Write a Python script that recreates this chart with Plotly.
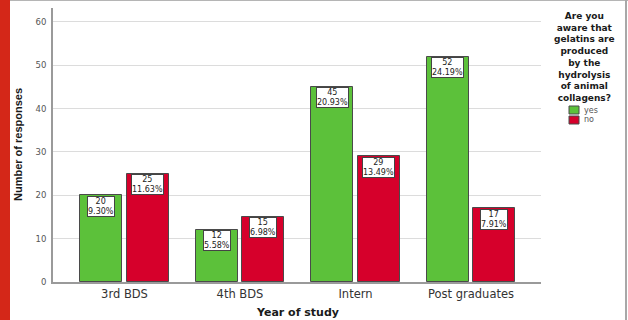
import plotly.graph_objects as go

# Survey responses by year of study
years = ["3rd BDS", "4th BDS", "Intern", "Post graduates"]
yes_counts = [20, 12, 45, 52]
no_counts = [25, 15, 29, 17]
yes_pct = ["9.30%", "5.58%", "20.93%", "24.19%"]
no_pct = ["11.63%", "6.98%", "13.49%", "7.91%"]
y_ticks = [0, 10, 20, 30, 40, 50, 60]
legend_title_lines = ["Are you", "aware that", "gelatins are", "produced",
                      "by the", "hydrolysis", "of animal", "collagens?"]
series_names = ["yes", "no"]

GREEN = "#5cc13a"
RED = "#d6002b"
FONT = "DejaVu Sans"

W, H = 628, 320
L, R, T, B = 53, 541, 8, 282  # plot area in pixels


def px_x(px):
    return (px - L) / (R - L)


def px_y(py):
    return (B - py) / (B - T)


idx = list(range(len(years)))
off = 0.203
bw = 0.364

fig = go.Figure()
for counts, color, name, shift in [(yes_counts, GREEN, series_names[0], -off),
                                   (no_counts, RED, series_names[1], off)]:
    fig.add_trace(go.Bar(
        x=[i + shift for i in idx], y=counts, width=bw, name=name,
        marker=dict(color=color, line=dict(color="#4a4a4a", width=1)),
        showlegend=False,
    ))

annotations = []
# value boxes at the top of each bar
for counts, pcts, shift in [(yes_counts, yes_pct, -off), (no_counts, no_pct, off)]:
    for i, c, p in zip(idx, counts, pcts):
        annotations.append(dict(
            x=i + shift, y=c, xref="x", yref="y", yanchor="top", yshift=-0.5,
            text=f"{c}<br>{p}", showarrow=False,
            font=dict(family=FONT, size=8, color="#222"),
            bgcolor="white", bordercolor="#444", borderwidth=1, borderpad=0,
        ))

# legend title
annotations.append(dict(
    x=px_x(584), y=px_y(9), xref="paper", yref="paper",
    xanchor="center", yanchor="top", align="center",
    text="<b>" + "<br>".join(legend_title_lines) + "</b>", showarrow=False,
    font=dict(family=FONT, size=9, color="#1a1a1a"),
))

shapes = []
# legend entries
for name, color, top in [(series_names[0], GREEN, 106), (series_names[1], RED, 116)]:
    shapes.append(dict(type="rect", xref="paper", yref="paper",
                       x0=px_x(569), x1=px_x(579), y0=px_y(top + 8), y1=px_y(top),
                       fillcolor=color, line=dict(color="#4a4a4a", width=1)))
    annotations.append(dict(
        x=px_x(582), y=px_y(top + 4), xref="paper", yref="paper",
        xanchor="left", yanchor="middle", text=name, showarrow=False,
        font=dict(family=FONT, size=8, color="#555"),
    ))

# axis titles
annotations.append(dict(
    x=px_x(297), y=px_y(312), xref="paper", yref="paper", xanchor="center",
    yanchor="middle", text="<b>Year of study</b>", showarrow=False,
    font=dict(family=FONT, size=11, color="#1a1a1a"),
))
annotations.append(dict(
    x=px_x(18), y=px_y(145), xref="paper", yref="paper", xanchor="center",
    yanchor="middle", text="<b>Number of responses</b>", showarrow=False,
    textangle=-90, font=dict(family="Liberation Sans", size=11, color="#1a1a1a"),
))

# page frame: red side band, thin grey borders
shapes.append(dict(type="rect", xref="paper", yref="paper",
                   x0=px_x(0), x1=px_x(10), y0=px_y(W), y1=px_y(0),
                   fillcolor="#d42718", line=dict(width=0), layer="above"))
shapes.append(dict(type="line", xref="paper", yref="paper",
                   x0=px_x(10), x1=px_x(628), y0=px_y(0.5), y1=px_y(0.5),
                   line=dict(color="#b5b5b5", width=1)))
shapes.append(dict(type="line", xref="paper", yref="paper",
                   x0=px_x(626), x1=px_x(626), y0=px_y(0), y1=px_y(320),
                   line=dict(color="#a8a8a8", width=2)))

fig.update_layout(
    width=W, height=H,
    margin=dict(l=L, r=W - R, t=T, b=H - B, pad=0),
    paper_bgcolor="white", plot_bgcolor="white",
    font=dict(family=FONT),
    annotations=annotations, shapes=shapes,
    bargap=0,
)
fig.update_xaxes(
    range=[-0.619, 3.606], tickvals=idx, ticktext=years, ticks="",
    tickfont=dict(family=FONT, size=11.5, color="#333"),
    showgrid=False, zeroline=False, showline=True, linecolor="#9a9a9a", linewidth=1.5,
)
fig.update_yaxes(
    range=[0, 63.2], tickvals=y_ticks, ticks="",
    tickfont=dict(family=FONT, size=8.5, color="#555"),
    showgrid=True, gridcolor="#dcdcdc", gridwidth=1, zeroline=False,
    showline=True, linecolor="#9a9a9a", linewidth=2, ticklabelstandoff=3,
)

fig.write_html("out.html")
